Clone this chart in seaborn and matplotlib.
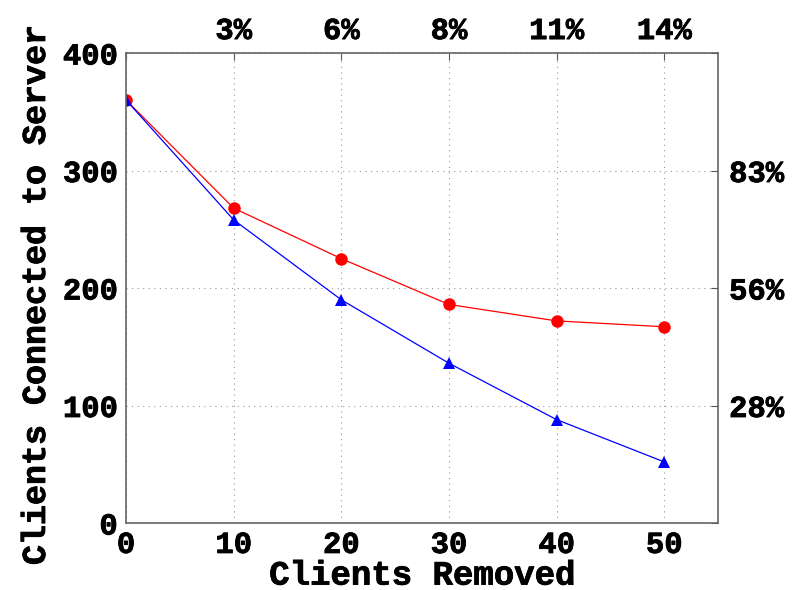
import matplotlib
matplotlib.use('Agg')
import matplotlib.pyplot as plt
import matplotlib.patheffects as pe
import pandas as pd
import seaborn as sns

removed = [0, 10, 20, 30, 40, 50]
red_connected = [360, 268, 225, 186, 172, 167]
blue_connected = [360, 258, 190, 136, 88, 52]
top_labels = ['3%', '6%', '8%', '11%', '14%']
right_ticks = [100, 200, 300]
right_labels = ['28%', '56%', '83%']

df = pd.DataFrame({'removed': removed + removed,
                   'connected': red_connected + blue_connected,
                   'series': ['red'] * len(removed) + ['blue'] * len(removed)})

sns.set_style('white')
plt.rcParams['font.family'] = ['Liberation Mono', 'DejaVu Sans Mono']
plt.rcParams['font.weight'] = 'bold'

fig = plt.figure(figsize=(8.04, 5.90), dpi=100)
ax = fig.add_axes([126 / 804, 1 - 523 / 590, (718 - 126) / 804, (523 - 53) / 590])

sns.lineplot(data=df, x='removed', y='connected', hue='series', style='series',
             palette={'red': '#ff0000', 'blue': '#0000ff'},
             markers={'red': 'o', 'blue': '^'}, dashes=False,
             markersize=9, markeredgewidth=0, linewidth=0.9, legend=False, ax=ax)

thick = [pe.withStroke(linewidth=0.6, foreground='black')]

ax.set_xlim(0, 55)
ax.set_ylim(0, 400)
ax.set_xticks([0, 10, 20, 30, 40, 50])
ax.set_yticks([0, 100, 200, 300, 400])
ax.grid(True, color='#999999', linestyle=(0, (1, 4)), linewidth=0.8)
ax.tick_params(direction='in', length=5, labelsize=22, color='#555555',
               labelcolor='black', top=True, right=True)
ax.tick_params(axis='y', pad=6)
ax.tick_params(axis='x', pad=5)
for s in ax.spines.values():
    s.set_color('#666666')
    s.set_linewidth(1.2)
    s.set_visible(True)
for t in ax.get_xticklabels() + ax.get_yticklabels():
    t.set_path_effects(thick)

ax.set_xlabel('Clients Removed', fontsize=24.5, fontweight='bold', color='black')
ax.xaxis.set_label_coords(0.5, -0.08)
ax.set_ylabel('Clients Connected to Server', fontsize=24, fontweight='bold', color='black')
ax.yaxis.set_label_coords(-0.125, 0.485)
ax.xaxis.label.set_path_effects(thick)
ax.yaxis.label.set_path_effects(thick)

top = ax.secondary_xaxis('top')
top.set_xticks(removed[1:])
top.set_xticklabels(top_labels)
top.tick_params(length=0, labelsize=22, pad=5, labelcolor='black')
top.spines['top'].set_visible(False)
for t in top.get_xticklabels():
    t.set_path_effects(thick)

right = ax.secondary_yaxis('right')
right.set_yticks(right_ticks)
right.set_yticklabels(right_labels)
right.tick_params(length=0, labelsize=22, pad=8, labelcolor='black')
right.spines['right'].set_visible(False)
for t in right.get_yticklabels():
    t.set_path_effects(thick)

fig.savefig('out.png', dpi=100)
